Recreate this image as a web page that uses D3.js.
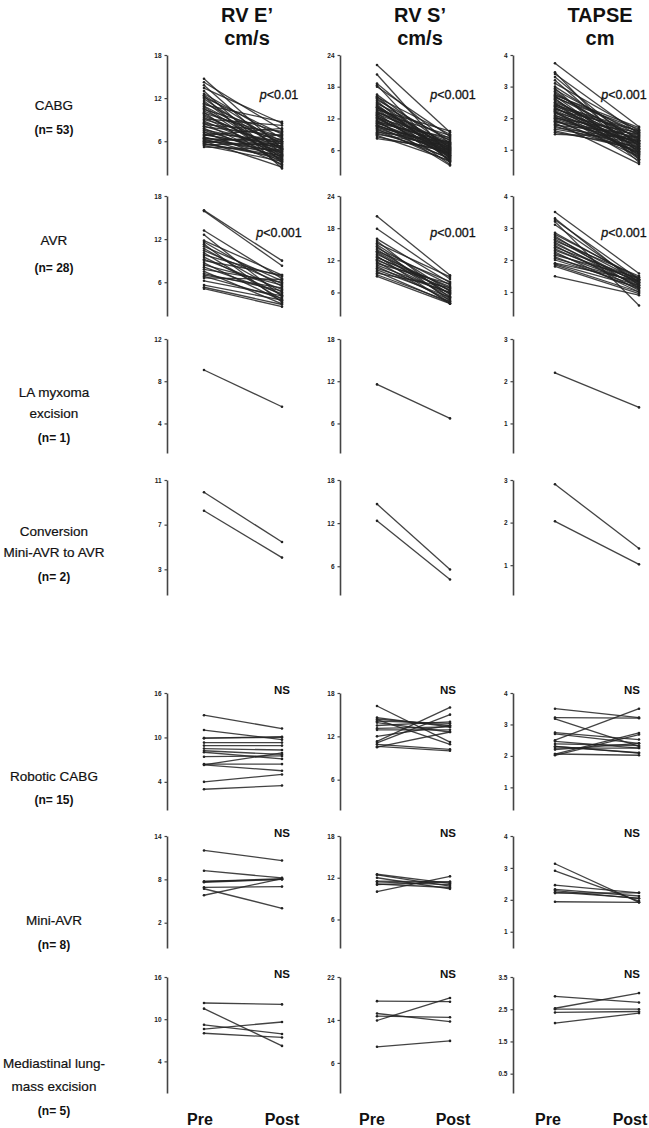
<!DOCTYPE html>
<html>
<head>
<meta charset="utf-8">
<script src="https://cdn.jsdelivr.net/npm/d3@7"></script>
<style>
  html, body { margin: 0; padding: 0; background: #fff; }
  svg { display: block; font-family: "Liberation Sans", Arial, sans-serif; }
</style>
</head>
<body>
<svg id="chart" width="649" height="1128"></svg>
<script>
// ---------------- DATA ----------------
const measures = ["RV E’", "RV S’", "TAPSE"];
const units = ["cm/s", "cm/s", "cm"];
const timepoints = ["Pre", "Post"];

const groupNames = [
  ["CABG"], ["AVR"], ["LA myxoma", "excision"], ["Conversion", "Mini-AVR to AVR"],
  ["Robotic CABG"], ["Mini-AVR"], ["Mediastinal lung-", "mass excision"]
];
const groupN = ["(n= 53)", "(n= 28)", "(n= 1)", "(n= 2)", "(n= 15)", "(n= 8)", "(n= 5)"];
const pLabels = [
  ["p<0.01", "p<0.001", "p<0.001"],
  ["p<0.001", "p<0.001", "p<0.001"],
  [null, null, null],
  [null, null, null],
  ["NS", "NS", "NS"],
  ["NS", "NS", "NS"],
  ["NS", "NS", "NS"]
];

// axis tick values per row (E', S', TAPSE)
const ticksE = [[6,12,18],[6,12,18],[4,8,12],[3,7,11],[4,10,16],[2,8,14],[4,10,16]];
const ticksS = [[6,12,18,24],[6,12,18,24],[6,12,18],[6,12,18],[6,12,18],[6,12,18],[6,14,22]];
const ticksT = [[1,2,3,4],[1,2,3,4],[1,2,3],[1,2,3],[1,2,3,4],[1,2,3,4],[0.5,1.5,2.5,3.5]];
// axis domains [bottom, top] per row
const domE = [[1.3,18],[1.3,18],[1.2,12],[0.7,11],[0.2,16],[-1.5,14],[-0.5,16]];
const domS = [[1.3,24],[1.6,24],[1.8,18],[2.0,18],[1.8,18],[1.9,18],[0.4,22]];
const domT = [[0.2,4],[0.25,4],[0.3,3],[0.3,3],[0.28,4],[0.49,4],[-0.1,3.5]];

// CABG (n=53)
const cabgEPre  = [14.7,14.2,13.8,13.4,13.0,12.6,12.4,12.3,12.1,11.9,11.6,11.3,11.1,10.9,10.8,10.6,10.4,10.2,10.0,9.9,9.7,9.5,9.3,9.1,9.0,8.8,8.6,8.5,8.3,8.1,8.0,7.8,7.6,7.5,7.3,7.2,7.0,6.9,6.8,6.6,6.5,6.4,6.3,6.2,6.1,6.0,5.9,5.8,5.7,5.6,5.5,5.4,5.2];
const cabgEPost = [5.0,7.6,4.2,8.5,3.0,6.4,5.5,2.2,7.0,4.8,3.6,6.0,8.7,5.2,4.0,3.3,7.2,5.8,2.6,6.6,4.5,5.0,3.8,8.2,6.2,4.3,5.6,3.1,7.4,4.9,6.8,3.5,5.3,4.1,2.8,6.0,4.7,5.1,7.8,3.9,4.4,5.9,3.4,6.3,4.6,2.4,5.4,6.9,3.7,4.0,5.7,3.2,4.8];
const cabgSPre  = [22.1,20.3,18.6,18.3,18.0,16.5,16.2,16.0,15.8,15.5,15.3,15.0,14.8,14.6,14.4,14.2,14.0,13.8,13.6,13.4,13.2,13.0,12.8,12.6,12.5,12.3,12.1,12.0,11.8,11.6,11.5,11.3,11.1,11.0,10.8,10.6,10.5,10.3,10.1,10.0,9.8,9.6,9.4,9.2,9.0,8.8,8.5,8.2,13.1,12.2,14.1,11.4,10.7];
const cabgSPost = [9.4,5.0,7.2,3.6,8.6,6.4,4.4,9.0,5.6,7.8,3.9,6.1,8.2,4.8,5.3,7.0,6.6,4.1,9.6,5.9,6.9,3.3,7.5,5.1,6.3,4.6,8.0,5.5,6.7,3.1,7.3,4.9,6.0,8.4,5.2,6.5,4.3,7.1,5.8,3.8,6.2,4.5,7.6,5.4,6.8,4.0,5.7,6.1,8.8,4.7,5.0,7.4,6.4];
const cabgTPre  = [3.74,3.45,3.4,3.3,3.2,3.1,3.0,2.95,2.9,2.85,2.8,2.75,2.7,2.68,2.65,2.6,2.55,2.5,2.48,2.45,2.4,2.38,2.35,2.3,2.28,2.25,2.2,2.18,2.15,2.1,2.08,2.05,2.0,1.98,1.95,1.9,1.88,1.85,1.8,1.78,1.75,1.7,1.65,1.6,1.55,1.49,2.62,2.42,2.22,2.02,2.72,2.32,1.92];
const cabgTPost = [1.73,0.7,1.5,1.1,0.9,1.6,1.3,0.6,1.45,1.0,1.2,1.55,0.8,1.35,1.65,0.95,1.15,1.4,0.75,1.25,1.05,1.5,0.85,1.3,1.6,1.1,0.65,1.45,1.2,0.9,1.35,1.0,1.55,1.15,0.8,1.4,1.25,0.55,1.05,1.5,0.95,1.3,1.2,1.0,1.1,1.4,0.7,1.6,0.85,1.25,1.7,1.15,0.9];

// AVR (n=28)
const avrEPre  = [16.0,15.9,13.2,12.6,11.8,11.6,11.3,11.0,10.7,10.4,10.1,9.8,9.5,9.2,9.0,8.7,8.4,8.1,7.8,7.5,7.2,7.0,6.8,6.6,6.2,5.6,5.3,5.1];
const avrEPost = [9.0,8.3,6.5,4.0,7.0,5.4,3.2,6.2,4.6,5.8,3.6,6.8,4.2,5.0,7.0,3.4,5.6,4.4,6.0,3.0,4.8,5.2,3.8,6.4,4.1,3.5,2.9,2.6];
const avrSPre  = [20.2,17.9,16.0,15.6,15.2,14.9,14.6,14.3,14.0,13.7,13.4,13.1,12.8,12.5,12.2,12.0,11.7,11.4,11.1,10.8,10.5,10.2,9.9,9.6,9.3,9.0,13.6,12.6];
const avrSPost = [9.2,8.5,7.8,5.0,8.9,6.2,4.4,7.4,5.6,8.0,4.8,6.8,3.9,7.1,5.3,6.5,4.2,7.6,5.9,4.6,6.0,5.1,4.0,6.9,4.3,3.9,5.8,6.4];
const avrTPre  = [3.5,3.3,3.25,3.2,3.1,2.8,2.75,2.7,2.65,2.6,2.55,2.5,2.45,2.4,2.35,2.3,2.25,2.2,2.15,2.1,2.05,2.0,1.9,1.88,1.85,1.8,1.49,2.85];
const avrTPost = [1.58,1.2,1.4,0.58,1.3,1.45,1.1,1.35,1.25,1.5,1.15,1.3,1.05,1.4,1.2,1.35,1.0,1.25,1.45,1.1,1.3,1.2,1.35,1.15,1.0,0.95,0.9,1.4];

// LA myxoma excision (n=1)
const laEPre = [9.06], laEPost = [5.58];
const laSPre = [11.55], laSPost = [6.72];
const laTPre = [2.2], laTPost = [1.38];

// Conversion Mini-AVR to AVR (n=2)
const convEPre = [9.9, 8.24], convEPost = [5.45, 4.05];
const convSPre = [14.65, 12.32], convSPost = [5.54, 4.15];
const convTPre = [2.9, 2.03], convTPost = [1.39, 1.02];

// Robotic CABG (n=15)
const robEPre  = [13.0,11.0,9.9,9.9,9.3,8.9,8.5,8.2,8.0,7.4,6.3,6.3,6.4,4.0,3.0];
const robEPost = [11.2,9.7,10.1,10.0,9.3,8.9,8.3,7.7,7.1,7.5,7.9,5.5,6.4,5.0,3.5];
const robSPre  = [16.2,14.6,14.4,14.3,14.1,13.9,13.5,13.1,12.9,12.0,11.3,11.1,10.9,10.6,10.5];
const robSPost = [11.2,13.3,13.5,10.9,13.8,12.6,14.0,13.3,12.9,13.5,16.0,15.0,10.2,10.0,12.6];
const robTPre  = [3.5,3.22,3.18,2.74,2.7,2.5,2.46,2.38,2.3,2.25,2.2,2.06,2.02,2.06,2.3];
const robTPost = [3.22,3.2,2.3,2.52,2.4,3.5,2.25,2.33,2.09,2.25,2.4,2.73,2.68,2.02,2.1];

// Mini-AVR (n=8)
const miniEPre  = [12.0,9.2,7.7,7.6,6.9,6.7,5.8,7.7];
const miniEPost = [10.6,8.2,8.1,8.0,7.0,4.0,8.1,8.0];
const miniSPre  = [12.5,12.4,12.0,11.5,11.4,11.0,10.0,11.1];
const miniSPost = [11.2,10.8,10.4,11.4,11.0,11.4,12.2,10.6];
const miniTPre  = [3.13,2.91,2.46,2.33,2.29,2.21,2.24,1.94];
const miniTPost = [1.92,1.96,2.22,2.12,2.04,2.22,2.05,1.92];

// Mediastinal lung-mass excision (n=5)
const medEPre  = [12.3,11.5,9.2,8.6,8.0];
const medEPost = [12.1,6.2,7.9,9.6,7.4];
const medSPre  = [17.5,15.2,14.7,13.9,9.0];
const medSPost = [17.4,13.7,14.5,18.1,10.1];
const medTPre  = [2.9,2.53,2.5,2.4,2.07];
const medTPost = [2.71,3.0,2.5,2.43,2.38];

// ---------------- ASSEMBLY ----------------
const rowsData = [
  [[cabgEPre,cabgEPost],[cabgSPre,cabgSPost],[cabgTPre,cabgTPost]],
  [[avrEPre,avrEPost],[avrSPre,avrSPost],[avrTPre,avrTPost]],
  [[laEPre,laEPost],[laSPre,laSPost],[laTPre,laTPost]],
  [[convEPre,convEPost],[convSPre,convSPost],[convTPre,convTPost]],
  [[robEPre,robEPost],[robSPre,robSPost],[robTPre,robTPost]],
  [[miniEPre,miniEPost],[miniSPre,miniSPost],[miniTPre,miniTPost]],
  [[medEPre,medEPost],[medSPre,medSPost],[medTPre,medTPost]]
];
const allTicks = [ticksE, ticksS, ticksT];
const allDom = [domE, domS, domT];

// ---------------- LAYOUT ----------------
const rowTop =    [55, 196, 339, 480, 693, 836, 977];
const rowBottom = [175, 316, 453, 595, 810, 948, 1093];
const axisX = [167, 340, 513];
const preX  = [204, 377, 555];
const postX = [282, 450, 639];
const titleX = [247, 420, 600];
const pX = [279, 453, 624];
const nsX = [282, 448, 632];
const preLabX = [200, 372, 548];
const postLabX = [282, 453, 630];
const labelX = 54;
const labelBase = [[110],[245],[397,418],[536,557],[781],[925],[1068,1091]];
const nBase = [134, 272, 442, 581, 804, 949, 1115];

const svg = d3.select("#chart");

// column titles
measures.forEach((m, c) => {
  svg.append("text").attr("x", titleX[c]).attr("y", 22)
    .attr("text-anchor", "middle").attr("font-size", 20).attr("font-weight", "bold")
    .attr("fill", "#111").text(m);
  svg.append("text").attr("x", titleX[c]).attr("y", 45)
    .attr("text-anchor", "middle").attr("font-size", 20).attr("font-weight", "bold")
    .attr("fill", "#111").text(units[c]);
});

// row labels
groupNames.forEach((lines, r) => {
  lines.forEach((t, i) => {
    svg.append("text").attr("x", labelX).attr("y", labelBase[r][i])
      .attr("text-anchor", "middle").attr("font-size", 13.5).attr("fill", "#111")
      .attr("stroke", "#111").attr("stroke-width", 0.2).text(t);
  });
  svg.append("text").attr("x", labelX).attr("y", nBase[r])
    .attr("text-anchor", "middle").attr("font-size", 12).attr("font-weight", "bold")
    .attr("fill", "#111").text(groupN[r]);
});

// panels
rowsData.forEach((row, r) => {
  row.forEach((pair, c) => {
    const [pre, post] = pair;
    const y = d3.scaleLinear().domain(allDom[c][r]).range([rowBottom[r], rowTop[r]]);
    const x = d3.scalePoint().domain(timepoints).range([preX[c], postX[c]]);
    const g = svg.append("g");

    const axis = d3.axisLeft(y).tickValues(allTicks[c][r]).tickSize(2.5).tickPadding(3)
      .tickFormat(d3.format(allTicks[c][r].some(v => v % 1 !== 0) ? ".1f" : "d"))
      .tickSizeOuter(0);
    const ag = g.append("g").attr("transform", `translate(${axisX[c]},0)`).call(axis);
    ag.select(".domain").attr("stroke", "#444").attr("stroke-width", 1.6);
    ag.selectAll(".tick line").attr("stroke", "#444").attr("stroke-width", 1.2);
    ag.selectAll(".tick text").attr("font-size", 6.5).attr("font-weight", "bold")
      .attr("fill", "#222").attr("font-family", "Liberation Sans, Arial, sans-serif");

    const pairs = pre.map((v, i) => [v, post[i]]);
    g.selectAll("line.pair").data(pairs).join("line").attr("class", "pair")
      .attr("x1", x("Pre")).attr("x2", x("Post"))
      .attr("y1", d => y(d[0])).attr("y2", d => y(d[1]))
      .attr("stroke", "#222").attr("stroke-width", 1.3).attr("stroke-opacity", 0.85);
    const pts = [];
    pairs.forEach(d => { pts.push(["Pre", d[0]]); pts.push(["Post", d[1]]); });
    g.selectAll("circle").data(pts).join("circle")
      .attr("cx", d => x(d[0])).attr("cy", d => y(d[1])).attr("r", 1.3).attr("fill", "#222");

    const lab = pLabels[r][c];
    if (lab === "NS") {
      g.append("text").attr("x", nsX[c]).attr("y", rowTop[r] + 1).attr("text-anchor", "middle")
        .attr("font-size", 11.5).attr("font-weight", "bold").attr("fill", "#111").text("NS");
    } else if (lab) {
      const t = g.append("text").attr("x", pX[c]).attr("y", r === 0 ? 99 : 237)
        .attr("text-anchor", "middle").attr("font-size", 12.5).attr("fill", "#111")
        .attr("stroke", "#111").attr("stroke-width", 0.3);
      t.append("tspan").attr("font-style", "italic").text("p");
      t.append("tspan").text(lab.slice(1));
    }
  });
});

// Pre / Post labels
[0,1,2].forEach(c => {
  svg.append("text").attr("x", preLabX[c]).attr("y", 1125).attr("text-anchor", "middle")
    .attr("font-size", 16).attr("font-weight", "bold").attr("fill", "#111").text(timepoints[0]);
  svg.append("text").attr("x", postLabX[c]).attr("y", 1125).attr("text-anchor", "middle")
    .attr("font-size", 16).attr("font-weight", "bold").attr("fill", "#111").text(timepoints[1]);
});
</script>
</body>
</html>
